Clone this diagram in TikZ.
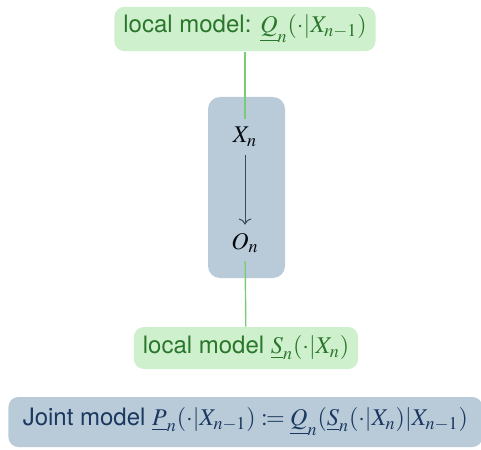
\documentclass[tikz,border=0pt,12pt]{standalone}
\usepackage{mathptmx}
\usepackage{mathtools}
\usepackage[no-math]{fontspec}
\setsansfont{TeX Gyre Heros}
\renewcommand{\familydefault}{\sfdefault}
\usetikzlibrary{arrows.meta}
\definecolor{locgreen}{RGB}{206,240,204}
\definecolor{locgreentext}{RGB}{42,118,44}
\definecolor{linkgreen}{RGB}{120,204,120}
\definecolor{jointblue}{RGB}{185,203,217}
\definecolor{jointtext}{RGB}{26,56,96}
\definecolor{arrowgray}{RGB}{60,72,84}
\begin{document}
\begin{tikzpicture}[x=0.5pt,y=-0.5pt,
  localbox/.style={fill=locgreen,text=locgreentext,rounded corners=5pt,inner xsep=4.5pt,minimum height=21pt},
  jointbox/.style={fill=jointblue,text=jointtext,rounded corners=5pt,inner xsep=6.5pt,minimum height=25pt},
  link/.style={draw=linkgreen,line width=0.7pt}]
\useasboundingbox (0,0) rectangle (481,449);
%
\node[fill=jointblue,rounded corners=6pt,minimum width=38.5pt,minimum height=90.5pt] (chain) at (246.5,187.5) {};
\node[text=black!85!jointtext] (xn) at (245,137) {$X_n$};
\node[text=black!85!jointtext] (on) at (245,243) {$O_n$};
\draw[-{To[length=3pt]},draw=arrowgray,line width=0.5pt] (xn) -- (on);
%
\node[localbox] (locq) at (245,29) {local model: $\underline{Q}_n(\cdot|X_{n-1})$};
\node[localbox] (locs) at (246,348) {local model $\underline{S}_n(\cdot|X_n)$};
\draw[link] (locq) -- (xn);
\draw[link] (on) -- (locs);
%
\node[jointbox,anchor=west,minimum width=237pt] (joint) at (8,422) {Joint model $\underline{P}_n(\cdot|X_{n-1})\coloneqq\underline{Q}_n(\underline{S}_n(\cdot|X_n)|X_{n-1})$};
\end{tikzpicture}
\end{document}
